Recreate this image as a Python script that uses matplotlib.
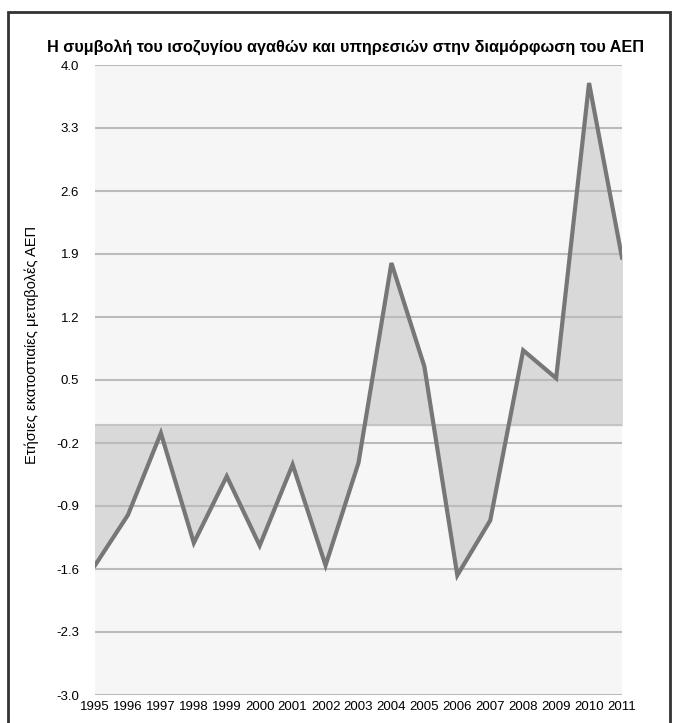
import matplotlib.pyplot as plt
from matplotlib.patches import Rectangle

plt.rcParams['font.family'] = ['Liberation Sans', 'DejaVu Sans']

years = list(range(1995, 2012))
values = [-1.56, -1.00, -0.09, -1.31, -0.57, -1.34, -0.44, -1.56, -0.42,
          1.80, 0.65, -1.67, -1.06, 0.83, 0.52, 3.80, 1.86]
yticks = [-3.0, -2.3, -1.6, -0.9, -0.2, 0.5, 1.2, 1.9, 2.6, 3.3, 4.0]

title = "Η συμβολή του ισοζυγίου αγαθών και υπηρεσιών στην διαμόρφωση του ΑΕΠ"
ylabel = "Ετήσιες εκατοστιαίες μεταβολές ΑΕΠ"

fig = plt.figure(figsize=(6.77, 7.23), dpi=100)
ax = fig.add_axes([95 / 677, 1 - 695 / 723, 527 / 677, 630 / 723])
ax.set_facecolor('#f6f6f6')

ax.fill_between(years, values, 0, color='#d9d9d9', zorder=1)
ax.axhline(0, color='#c4c4c4', lw=1.5, zorder=2)
ax.plot(years, values, color='#777777', lw=3, zorder=3, solid_joinstyle='miter')

ax.set_xlim(1995, 2011)
ax.set_ylim(-3.0, 4.0)
ax.set_yticks(yticks)
ax.set_yticklabels([f"{t:.1f}" for t in yticks])
ax.set_xticks(years)
ax.set_xticklabels([str(y) for y in years])
ax.yaxis.grid(True, color='#bbbbbb', lw=1.5)
ax.set_axisbelow(False)
for g in ax.get_ygridlines():
    g.set_zorder(0.5)
ax.tick_params(axis='both', length=0, labelsize=9.5, colors='#000000')
ax.tick_params(axis='y', pad=11.5)
ax.tick_params(axis='x', pad=4)
for s in ax.spines.values():
    s.set_visible(False)

fig.text(32 / 677, 1 - 345 / 723, ylabel, rotation=90, ha='center',
         va='center', fontsize=10.5)
fig.text(0.51, 1 - 48 / 723, title, ha='center', va='center',
         fontsize=11.7, fontweight='bold')

fig.patches.append(Rectangle((8 / 677, -0.05), 662 / 677, 1.05 - 12 / 723,
                             transform=fig.transFigure, fill=False,
                             edgecolor='#333333', lw=2))

fig.savefig('out.png', dpi=100)
